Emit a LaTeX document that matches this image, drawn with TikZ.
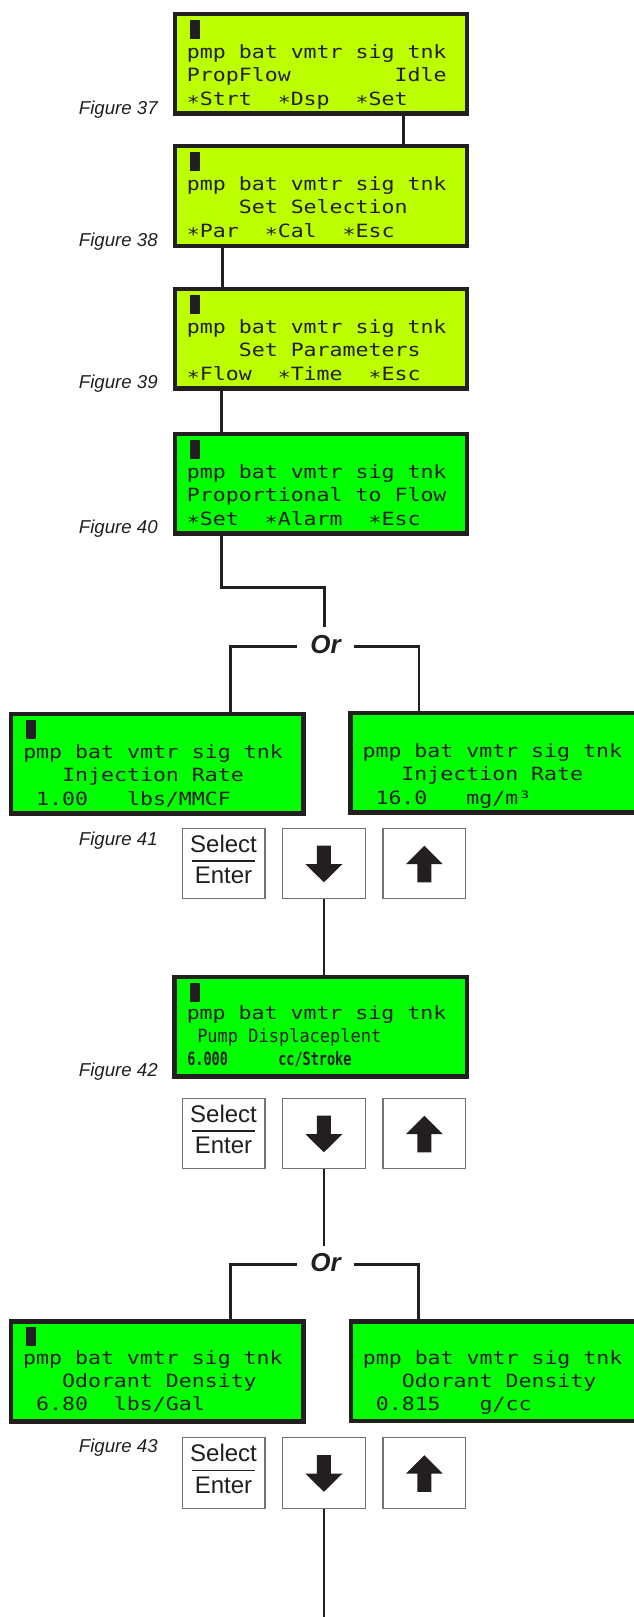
\documentclass[tikz,border=0pt]{standalone}
\usepackage{fontspec}
\setmainfont{Liberation Sans}
\newfontfamily\lcdfont[FakeStretch=1.18]{DejaVu Sans Mono}
\newfontfamily\lcdnarrow[FakeStretch=0.93]{DejaVu Sans Mono}
\newfontfamily\lcdcond[FakeStretch=0.74]{DejaVu Sans Mono}
\usetikzlibrary{calc}

\definecolor{ink}{HTML}{231F20}
\definecolor{limelcd}{RGB}{187,255,0}
\definecolor{greenlcd}{RGB}{0,255,0}
\definecolor{keyrim}{gray}{0.45}

\tikzset{
  lcdscreen/.style={draw=ink, line width=3.375pt, minimum width=219.1pt,
    minimum height=74.8pt, inner sep=0pt, outer sep=1.6875pt},
  lcdtext/.style={anchor=base west, inner sep=0pt, text=ink,
    font=\lcdfont\fontsize{13.7pt}{16pt}\selectfont},
  lcdtextnarrow/.style={lcdtext, font=\lcdnarrow\fontsize{13.7pt}{16pt}\selectfont},
  lcdtextcond/.style={lcdtext, font=\lcdcond\bfseries\fontsize{13.7pt}{16pt}\selectfont},
  cursorblk/.style={fill=ink, minimum width=7.5pt, minimum height=14.25pt,
    inner sep=0pt, outer sep=0pt, anchor=north west},
  keycap/.style={draw=keyrim, fill=white, line width=0.9pt, minimum width=62.1pt,
    minimum height=52.7pt, inner sep=0pt},
  keytext/.style={anchor=base, inner sep=0pt, text=ink,
    font=\fontsize{18pt}{20pt}\selectfont},
  figlabel/.style={anchor=base east, inner sep=0pt, text=ink,
    font=\itshape\fontsize{14pt}{16pt}\selectfont},
  orlabel/.style={anchor=base, inner xsep=9.5pt, inner ysep=5.7pt, text=ink,
    font=\bfseries\itshape\fontsize{19.5pt}{22pt}\selectfont},
  conn/.style={draw=ink, line width=1.9pt},
  arrowfill/.style={fill=ink},
}

% one row of keypad buttons: Select/Enter, down, up
\newcommand\keyrow[2]{%
  \node[keycap] (s#1) at (223.5,#2) {};
  \node[keycap] (d#1) at (323.9,#2) {};
  \node[keycap] (u#1) at (424.3,#2) {};
  \node[keytext] (s#1a) at ($(s#1)+(0,-11.5)$) {Select};
  \node[keytext] (s#1b) at ($(s#1)+(0,20)$) {Enter};
  \draw[ink, line width=0.95pt] ($(s#1)+(-31.3,-2.5)$) -- ($(s#1)+(31.3,-2.5)$);
  \begin{scope}[shift={(d#1.center)}]
    \fill[arrowfill] (-7,-17.8) -- (7,-17.8) -- (7,0.5) -- (18.6,0.5) -- (0,18.8)
      -- (-18.6,0.5) -- (-7,0.5) -- cycle;
  \end{scope}
  \begin{scope}[shift={(u#1.center)}]
    \fill[arrowfill] (0,-17.8) -- (18.3,0.5) -- (7,0.5) -- (7,18.8) -- (-7,18.8)
      -- (-7,0.5) -- (-18.3,0.5) -- cycle;
  \end{scope}
}

\begin{document}
\begin{tikzpicture}[x=0.75pt,y=-0.75pt]
\useasboundingbox (0,0) rectangle (634,1617);
\clip (0,0) rectangle (634,1617);

% ---- screens ----
\node[lcdscreen, fill=limelcd] (b37) at (321.0,63.8) {};
\node[lcdscreen, fill=limelcd] (b38) at (321.0,196.1) {};
\node[lcdscreen, fill=limelcd] (b39) at (321.0,338.8) {};
\node[lcdscreen, fill=greenlcd] (b40) at (321.0,483.8) {};
\node[lcdscreen, fill=greenlcd] (b41L) at (157.3,763.8) {};
\node[lcdscreen, fill=greenlcd] (b41R) at (496.6,762.8) {};
\node[lcdscreen, fill=greenlcd] (b42) at (320.8,1026.8) {};
\node[lcdscreen, fill=greenlcd] (b43L) at (157.2,1371.4) {};
\node[lcdscreen, fill=greenlcd] (b43R) at (496.9,1371.1) {};

% ---- connectors ----
\draw[conn] (403.3,0 |- b37.south) -- (403.3,0 |- b38.north);
\draw[conn] (222.3,0 |- b38.south) -- (222.3,0 |- b39.north);
\draw[conn] (221.7,0 |- b39.south) -- (221.7,0 |- b40.north);

\node[orlabel] (or1) at (325.5,653.3) {Or};
\draw[conn] (221.7,0 |- b40.south) |- (324.3,587.7) -- (324.3,0 |- or1.north);
\draw[conn] ([yshift=5pt]or1.base west) -| (230.5,0 |- b41L.north);
\draw[conn] ([yshift=5pt]or1.base east) -| (419,0 |- b41R.north);

\keyrow{41}{863.5}
\keyrow{42}{1133.5}
\keyrow{43}{1473}

\draw[conn] (d41.south) -- (d41.south |- b42.north);

\node[orlabel] (or2) at (325.5,1271.7) {Or};
\draw[conn] (d42.south) -- (d42.south |- or2.north);
\draw[conn] ([yshift=5.3pt]or2.base west) -| (230.5,0 |- b43L.north);
\draw[conn] ([yshift=5.3pt]or2.base east) -| (418.5,0 |- b43R.north);

\coordinate (tail) at (323.9,1617);
\draw[conn] (d43.south) -- (tail);

% ---- screen contents ----
\node[cursorblk] (k37) at ($(b37.north west)+(17.3,8.3)$) {};
\node[lcdtext] (t37a) at ($(b37.north west)+(14,46.5)$) {pmp~bat~vmtr~sig~tnk};
\node[lcdtext] (t37b) at ($(b37.north west)+(14,70)$) {PropFlow~~~~~~~~Idle};
\node[lcdtext] (t37c) at ($(b37.north west)+(14,93.5)$) {∗Strt~~∗Dsp~~∗Set};

\node[cursorblk] (k38) at ($(b38.north west)+(17.3,8.3)$) {};
\node[lcdtext] (t38a) at ($(b38.north west)+(14,46.5)$) {pmp~bat~vmtr~sig~tnk};
\node[lcdtext] (t38b) at ($(b38.north west)+(14,70)$) {~~~~Set~Selection};
\node[lcdtext] (t38c) at ($(b38.north west)+(14,93.5)$) {∗Par~~∗Cal~~∗Esc};

\node[cursorblk] (k39) at ($(b39.north west)+(17.3,8.3)$) {};
\node[lcdtext] (t39a) at ($(b39.north west)+(14,46.5)$) {pmp~bat~vmtr~sig~tnk};
\node[lcdtext] (t39b) at ($(b39.north west)+(14,70)$) {~~~~Set~Parameters};
\node[lcdtext] (t39c) at ($(b39.north west)+(14,93.5)$) {∗Flow~~∗Time~~∗Esc};

\node[cursorblk] (k40) at ($(b40.north west)+(17.3,8.3)$) {};
\node[lcdtext] (t40a) at ($(b40.north west)+(14,46.5)$) {pmp~bat~vmtr~sig~tnk};
\node[lcdtext] (t40b) at ($(b40.north west)+(14,70)$) {Proportional~to~Flow};
\node[lcdtext] (t40c) at ($(b40.north west)+(14,93.5)$) {∗Set~~∗Alarm~~∗Esc};

\node[cursorblk] (k41) at ($(b41L.north west)+(17.3,8.3)$) {};
\node[lcdtext] (t41a) at ($(b41L.north west)+(14,46.5)$) {pmp~bat~vmtr~sig~tnk};
\node[lcdtext] (t41b) at ($(b41L.north west)+(14,70)$) {~~~Injection~Rate};
\node[lcdtext] (t41c) at ($(b41L.north west)+(14,93.5)$) {~1.00~~~lbs/MMCF};

\node[lcdtext] (t41d) at ($(b41R.north west)+(14,46.5)$) {pmp~bat~vmtr~sig~tnk};
\node[lcdtext] (t41e) at ($(b41R.north west)+(14,70)$) {~~~Injection~Rate};
\node[lcdtext] (t41f) at ($(b41R.north west)+(14,93.5)$) {~16.0~~~mg/m³};

\node[cursorblk] (k42) at ($(b42.north west)+(17.3,8.0)$) {};
\node[lcdtext] (t42a) at ($(b42.north west)+(14,44.5)$) {pmp~bat~vmtr~sig~tnk};
\node[lcdtextnarrow] (t42b) at ($(b42.north west)+(24.5,67.5)$) {Pump Displaceplent};
\node[lcdtextcond] (t42c) at ($(b42.north west)+(14.5,91)$) {6.000};
\node[lcdtextcond] (t42d) at ($(b42.north west)+(105.5,91)$) {cc/Stroke};

\node[cursorblk] (k43) at ($(b43L.north west)+(17.3,7.5)$) {};
\node[lcdtext] (t43a) at ($(b43L.north west)+(14,45)$) {pmp~bat~vmtr~sig~tnk};
\node[lcdtext] (t43b) at ($(b43L.north west)+(14,68)$) {~~~Odorant~Density};
\node[lcdtext] (t43c) at ($(b43L.north west)+(14,91.5)$) {~6.80~~lbs/Gal};

\node[lcdtext] (t43d) at ($(b43R.north west)+(14,45)$) {pmp~bat~vmtr~sig~tnk};
\node[lcdtext] (t43e) at ($(b43R.north west)+(14,68)$) {~~~Odorant~Density};
\node[lcdtext] (t43f) at ($(b43R.north west)+(14,91.5)$) {~0.815~~~g/cc};

% ---- figure captions ----
\node[figlabel] (f37) at (158,114) {Figure 37};
\node[figlabel] (f38) at (158,246) {Figure 38};
\node[figlabel] (f39) at (158,388.7) {Figure 39};
\node[figlabel] (f40) at (158,533.7) {Figure 40};
\node[figlabel] (f41) at (158,845) {Figure 41};
\node[figlabel] (f42) at (158,1076) {Figure 42};
\node[figlabel] (f43) at (158,1452) {Figure 43};
\end{tikzpicture}
\end{document}
